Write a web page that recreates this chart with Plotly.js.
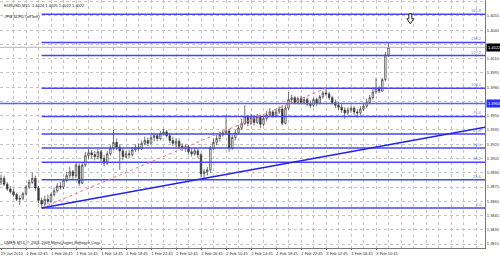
<!DOCTYPE html>
<html><head><meta charset="utf-8">
<script src="https://cdn.plot.ly/plotly-3.0.1.min.js"></script>
<style>html,body{margin:0;padding:0;background:#fff}#chart{width:500px;height:256px}</style>
</head><body><div id="chart"></div>
<script>
// ---- Data (EURUSD bars) ----
const opens = [1.3880,1.3884,1.3878,1.3873,1.3870,1.3867,1.3862,1.3863,1.3868,1.3875,
1.3880,1.3884,1.3874,1.3861,1.3857,1.3862,1.3860,1.3867,1.3871,1.3876,
1.3875,1.3882,1.3887,1.3891,1.3887,1.3897,1.3879,1.3898,1.3908,1.3911,
1.3909,1.3907,1.3912,1.3905,1.3900,1.3910,1.3916,1.3922,1.3917,1.3913,
1.3907,1.3910,1.3909,1.3914,1.3917,1.3915,1.3921,1.3924,1.3921,1.3927,
1.3929,1.3926,1.3931,1.3933,1.3929,1.3924,1.3921,1.3923,1.3918,1.3916,
1.3917,1.3912,1.3910,1.3913,1.3909,1.3889,1.3891,1.3893,1.3916,1.3922,
1.3926,1.3930,1.3932,1.3934,1.3916,1.3927,1.3932,1.3937,1.3942,1.3949,
1.3942,1.3948,1.3943,1.3949,1.3941,1.3947,1.3951,1.3954,1.3950,1.3954,
1.3957,1.3942,1.3958,1.3967,1.3969,1.3964,1.3968,1.3964,1.3967,1.3962,
1.3961,1.3967,1.3963,1.3970,1.3974,1.3973,1.3969,1.3964,1.3961,1.3959,
1.3956,1.3953,1.3956,1.3958,1.3954,1.3953,1.3957,1.3960,1.3964,1.3969,
1.3975,1.3979,1.3976,1.3988,1.4014];
const highs = [1.3888,1.3887,1.3880,1.3876,1.3873,1.3869,1.3866,1.3870,1.3877,1.3883,
1.3890,1.3887,1.3876,1.3864,1.3866,1.3867,1.3869,1.3874,1.3879,1.3880,
1.3884,1.3891,1.3896,1.3893,1.3900,1.3900,1.3901,1.3912,1.3915,1.3914,
1.3913,1.3915,1.3914,1.3909,1.3913,1.3919,1.3935,1.3926,1.3920,1.3916,
1.3913,1.3914,1.3917,1.3920,1.3921,1.3924,1.3928,1.3927,1.3930,1.3932,
1.3931,1.3934,1.3936,1.3935,1.3932,1.3928,1.3926,1.3926,1.3921,1.3920,
1.3919,1.3915,1.3916,1.3915,1.3911,1.3894,1.3896,1.3918,1.3926,1.3930,
1.3933,1.3935,1.3951,1.3936,1.3930,1.3935,1.3940,1.3947,1.3961,1.3951,
1.3952,1.3950,1.3952,1.3951,1.3950,1.3955,1.3958,1.3956,1.3957,1.3960,
1.3961,1.3961,1.3975,1.3972,1.3971,1.3970,1.3971,1.3970,1.3969,1.3966,
1.3969,1.3969,1.3972,1.3976,1.3979,1.3975,1.3971,1.3967,1.3964,1.3962,
1.3959,1.3959,1.3961,1.3960,1.3957,1.3960,1.3963,1.3968,1.3972,1.3978,
1.3990,1.3981,1.3990,1.4017,1.4026];
const lows = [1.3877,1.3876,1.3871,1.3868,1.3865,1.3860,1.3856,1.3861,1.3866,1.3873,
1.3878,1.3871,1.3858,1.3853,1.3855,1.3857,1.3858,1.3865,1.3869,1.3872,
1.3873,1.3880,1.3884,1.3883,1.3884,1.3876,1.3878,1.3896,1.3904,1.3905,
1.3903,1.3904,1.3902,1.3897,1.3898,1.3908,1.3914,1.3914,1.3893,1.3903,
1.3905,1.3905,1.3907,1.3912,1.3913,1.3914,1.3919,1.3918,1.3920,1.3923,
1.3923,1.3924,1.3929,1.3927,1.3921,1.3918,1.3917,1.3915,1.3913,1.3912,
1.3909,1.3907,1.3908,1.3905,1.3885,1.3884,1.3887,1.3890,1.3914,1.3919,
1.3923,1.3928,1.3930,1.3912,1.3914,1.3924,1.3930,1.3935,1.3940,1.3939,
1.3940,1.3940,1.3941,1.3937,1.3939,1.3944,1.3949,1.3948,1.3948,1.3952,
1.3940,1.3941,1.3956,1.3963,1.3962,1.3962,1.3962,1.3962,1.3960,1.3958,
1.3959,1.3960,1.3962,1.3968,1.3971,1.3967,1.3962,1.3958,1.3956,1.3953,
1.3947,1.3951,1.3953,1.3951,1.3948,1.3951,1.3955,1.3958,1.3962,1.3967,
1.3973,1.3974,1.3975,1.3986,1.4012];
const closes = [1.3884,1.3878,1.3873,1.3870,1.3867,1.3862,1.3863,1.3868,1.3875,1.3880,
1.3884,1.3874,1.3861,1.3857,1.3862,1.3860,1.3867,1.3871,1.3876,1.3875,
1.3882,1.3887,1.3891,1.3887,1.3898,1.3879,1.3898,1.3908,1.3911,1.3909,
1.3907,1.3912,1.3905,1.3900,1.3910,1.3916,1.3922,1.3917,1.3913,1.3907,
1.3910,1.3909,1.3914,1.3917,1.3915,1.3921,1.3924,1.3921,1.3927,1.3929,
1.3926,1.3931,1.3933,1.3929,1.3924,1.3921,1.3923,1.3918,1.3916,1.3917,
1.3912,1.3910,1.3913,1.3909,1.3889,1.3891,1.3893,1.3916,1.3922,1.3926,
1.3930,1.3932,1.3934,1.3916,1.3927,1.3932,1.3937,1.3942,1.3949,1.3942,
1.3948,1.3943,1.3949,1.3941,1.3947,1.3951,1.3954,1.3950,1.3954,1.3957,
1.3942,1.3958,1.3967,1.3969,1.3964,1.3968,1.3964,1.3967,1.3962,1.3961,
1.3967,1.3963,1.3970,1.3974,1.3973,1.3969,1.3964,1.3961,1.3959,1.3956,
1.3953,1.3956,1.3958,1.3954,1.3953,1.3957,1.3960,1.3964,1.3969,1.3975,
1.3979,1.3976,1.3988,1.4014,1.4022];

const timeTickIdx = [0,8,16,24,32,40,48,56,64,72,80,88,96,104,112,120];
const timeTickText = ["29 Jan 2010","1 Feb 02:45","1 Feb 06:45","1 Feb 10:45","1 Feb 14:45","1 Feb 18:45",
  "1 Feb 22:45","2 Feb 02:45","2 Feb 06:45","2 Feb 10:45","2 Feb 14:45","2 Feb 18:45","2 Feb 22:45",
  "3 Feb 02:45","3 Feb 06:45","3 Feb 10:45"];
const gridIdx = [4,12,20,28,36,44,52,60,68,76,84,92,100,108,116,124,128,132,136,140,144,148,152];
const priceTicks = [1.3815,1.3830,1.3845,1.3860,1.3875,1.3890,1.3905,1.3920,1.3935,1.3950,
  1.3965,1.3980,1.3995,1.4010,1.4025,1.4040,1.4055,1.4070];

const fibLevels = [0, 23.6, 38.2, 50.0, 61.8, 76.4, 100.0, 127.2, 138.2, 161.8];
const fibFromBar = 13, fibToBar = 104;
const trendA = [13, 1.3853], trendB = [64, 1.38835];
const hLinePrice = 1.3963;
const arrowBar = 131, arrowPrice = 1.4052;
const titleText = "EURUSD,M15  1.4024 1.4025 1.4022 1.4022";
const objText = "#FIB-6DFD (off line)";
const footText = "UMES MT4, © 2001-2009 MetaQuotes Software Corp.";

// ---- Build ----
const barIdx = closes.map((_, i) => i);
const xRange = [-0.32, 154.88];
const yRange = [1.38108, 1.40718];
const FONT = 'Liberation Sans, Arial, sans-serif';
const blue = '#4646f4';

const trace = {
  type: 'candlestick', x: barIdx, open: opens, high: highs, low: lows, close: closes,
  increasing: {line: {color: '#3a3a3a', width: 0.7}, fillcolor: '#ffffff'},
  decreasing: {line: {color: '#3a3a3a', width: 0.7}, fillcolor: '#3a3a3a'},
  whiskerwidth: 0, hoverinfo: 'skip', showlegend: false
};

const fLow = lows[fibFromBar], fHigh = highs[fibToBar];
const last = closes[closes.length - 1];
const shapes = [];
const annotations = [];
fibLevels.forEach(lv => {
  const p = fLow + (fHigh - fLow) * lv / 100;
  shapes.push({type: 'line', xref: 'x', yref: 'y', x0: fibFromBar, x1: xRange[1], y0: p, y1: p,
    line: {color: blue, width: 1.5}});
  annotations.push({xref: 'paper', yref: 'y', x: 0.997, y: p, xanchor: 'right', yanchor: 'bottom',
    text: lv.toFixed(1), showarrow: false, font: {family: FONT, size: 4, color: '#7070ff'}, yshift: -1});
});
shapes.push({type: 'line', xref: 'x', yref: 'y', x0: fibFromBar, y0: fLow, x1: fibToBar, y1: fHigh,
  line: {color: '#ff7070', width: 1, dash: 'dot'}});
const slope = (trendB[1] - trendA[1]) / (trendB[0] - trendA[0]);
shapes.push({type: 'line', xref: 'x', yref: 'y', x0: trendA[0], y0: trendA[1], x1: xRange[1],
  y1: trendA[1] + slope * (xRange[1] - trendA[0]), line: {color: '#2222e6', width: 1.5}});
shapes.push({type: 'line', xref: 'paper', yref: 'y', x0: 0, x1: 1, y0: hLinePrice, y1: hLinePrice,
  line: {color: '#6060f6', width: 1.5}});
shapes.push({type: 'line', xref: 'paper', yref: 'y', x0: 0, x1: 1, y0: last, y1: last,
  line: {color: '#b4b4b4', width: 1}});
// hollow down-arrow object (MT4 arrow), anchored at bar/price, drawn in pixels
shapes.push({type: 'path', xref: 'x', yref: 'y', xsizemode: 'pixel', ysizemode: 'pixel',
  xanchor: arrowBar, yanchor: arrowPrice,
  path: 'M -1.5 5 L 1.5 5 L 1.5 0 L 3.5 0 L 0 -5 L -3.5 0 L -1.5 0 Z',
  line: {color: '#222', width: 1}, fillcolor: 'rgba(255,255,255,1)'});

annotations.push({xref: 'paper', yref: 'y', x: 1, y: last, xanchor: 'left', yanchor: 'middle',
  text: last.toFixed(4), showarrow: false, bgcolor: '#000', borderpad: 1, xshift: 1,
  font: {family: FONT, size: 4, color: '#fff'}});
annotations.push({xref: 'paper', yref: 'y', x: 1, y: hLinePrice, xanchor: 'left', yanchor: 'middle',
  text: hLinePrice.toFixed(4), showarrow: false, bgcolor: '#2a2aff', borderpad: 1, xshift: 1,
  font: {family: FONT, size: 4, color: '#fff'}});
annotations.push({xref: 'paper', yref: 'paper', x: 0.004, y: 0.997, xanchor: 'left', yanchor: 'top',
  text: titleText, showarrow: false, font: {family: FONT, size: 4, color: '#222'}});
annotations.push({xref: 'paper', yref: 'paper', x: 0.004, y: 0.95, xanchor: 'left', yanchor: 'top',
  text: objText, showarrow: false, font: {family: FONT, size: 4, color: '#222'}});
annotations.push({xref: 'paper', yref: 'paper', x: 0.004, y: 0.003, xanchor: 'left', yanchor: 'bottom',
  text: footText, showarrow: false, font: {family: FONT, size: 4, color: '#222'}});

// tick labels hidden behind the price boxes (as in the reference)
const yTickText = priceTicks.map(v =>
  (Math.abs(v - last) < 0.0006 || Math.abs(v - hLinePrice) < 0.0006) ? '' : v.toFixed(4));

const layout = {
  width: 500, height: 256,
  margin: {l: 0, r: 15, t: 0, b: 8, pad: 0},
  paper_bgcolor: '#fff', plot_bgcolor: '#fff', showlegend: false,
  font: {family: FONT, size: 4, color: '#333'},
  xaxis: {
    type: 'linear', range: xRange, fixedrange: true, rangeslider: {visible: false},
    tickmode: 'array', tickvals: timeTickIdx, ticktext: timeTickText,
    ticks: 'outside', ticklen: 1, tickcolor: '#666', tickwidth: 1, ticklabelshift: 11,
    tickfont: {family: FONT, size: 4, color: '#333'},
    showgrid: true, gridcolor: '#c4c4c4', griddash: 'dot', gridwidth: 1,
    minor: {tickmode: 'array', tickvals: gridIdx, showgrid: true, gridcolor: '#c4c4c4', griddash: 'dot', gridwidth: 1},
    showline: true, linecolor: '#777', linewidth: 1, mirror: true, zeroline: false, automargin: false
  },
  yaxis: {
    side: 'right', range: yRange, fixedrange: true,
    tickmode: 'array', tickvals: priceTicks, ticktext: yTickText,
    ticks: '', tickfont: {family: FONT, size: 4, color: '#333'},
    showgrid: true, gridcolor: '#c4c4c4', griddash: 'dot', gridwidth: 1,
    showline: true, linecolor: '#777', linewidth: 1, mirror: true, zeroline: false, automargin: false
  },
  shapes: shapes, annotations: annotations
};
Plotly.newPlot('chart', [trace], layout, {staticPlot: true, displayModeBar: false});
</script></body></html>
